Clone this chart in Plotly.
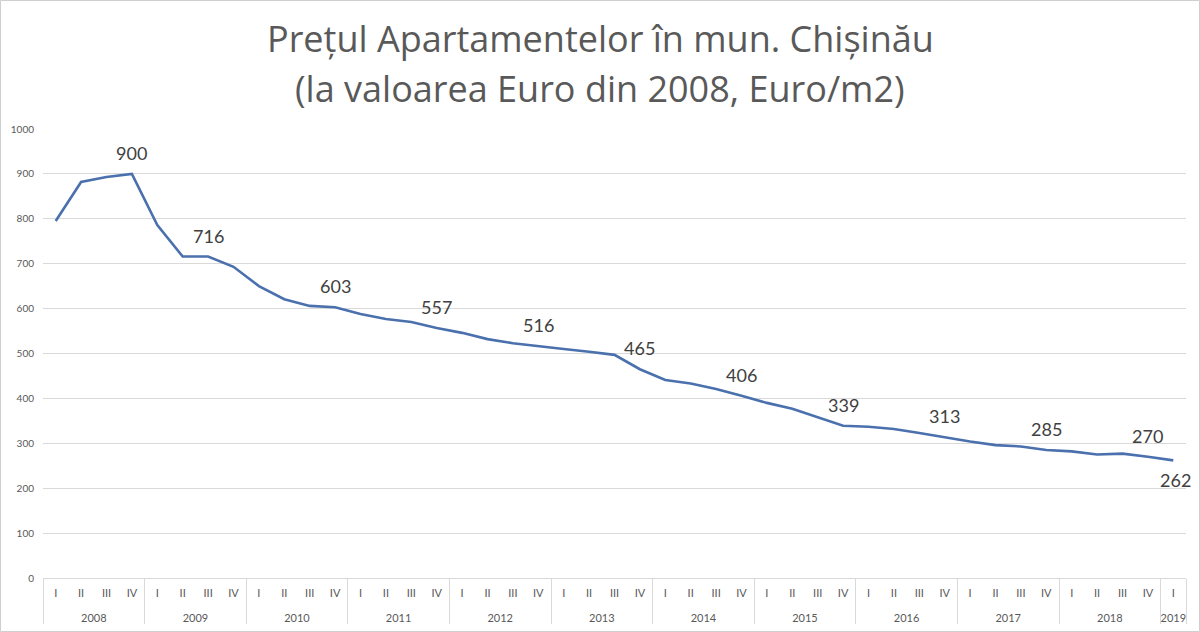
import plotly.graph_objects as go

years = ["2008", "2009", "2010", "2011", "2012", "2013", "2014", "2015",
         "2016", "2017", "2018", "2019"]
quarter_names = ["I", "II", "III", "IV"]
quarters_per_year = [4, 4, 4, 4, 4, 4, 4, 4, 4, 4, 4, 1]

prices = [795, 882, 893, 900,
          786, 716, 716, 693,
          650, 621, 606, 603,
          588, 577, 570, 557,
          546, 532, 523, 516,
          510, 504, 497, 465,
          441, 433, 421, 406,
          390, 377, 358, 339,
          337, 332, 323, 313,
          304, 296, 293, 285,
          282, 275, 277, 270,
          262]

# indices of the points that carry a value label
label_idx = [3, 6, 11, 15, 19, 23, 27, 31, 35, 39, 43, 44]
label_below = [44]

title_line1 = "Prețul Apartamentelor în mun. Chișinău"
title_line2 = "(la valoarea Euro din 2008, Euro/m2)"

x_year = []
x_q = []
for y, n in zip(years, quarters_per_year):
    for k in range(n):
        # leading line break pushes the year row lower, as in the reference
        x_year.append("<br>" + y)
        x_q.append(quarter_names[k])

W, H = 1200, 632
ml, mr, mt, mb = 43, 14, 129, 54
pw, ph = W - ml - mr, H - mt - mb

fig = go.Figure()
fig.add_trace(go.Scatter(
    x=[x_year, x_q], y=prices, mode="lines",
    line=dict(color="#4a70ad", width=2.6),
    hoverinfo="y", showlegend=False,
))

annotations = []
for i in label_idx:
    below = i in label_below
    annotations.append(dict(
        x=i, y=prices[i], xref="x", yref="y", text=str(prices[i]),
        showarrow=False, yshift=-20 if below else 21,
        xshift=2 if below else 0,
        font=dict(family="Lato", size=18, color="#404040"),
    ))

annotations.append(dict(
    x=(600 - ml) / pw, y=(H - mb - 38) / ph, xref="paper", yref="paper",
    text=title_line1, showarrow=False, yanchor="middle",
    font=dict(family="Open Sans", size=36, color="#595959"),
))
annotations.append(dict(
    x=(600 - ml) / pw, y=(H - mb - 88) / ph, xref="paper", yref="paper",
    text=title_line2, showarrow=False, yanchor="middle",
    font=dict(family="Open Sans", size=36, color="#595959"),
))

fig.update_layout(
    width=W, height=H,
    margin=dict(l=ml, r=mr, t=mt, b=mb),
    paper_bgcolor="white", plot_bgcolor="white",
    annotations=annotations,
    shapes=[dict(type="rect", xref="paper", yref="paper",
                 x0=-(ml - 0.5) / pw, x1=(W - 0.5 - ml) / pw,
                 y0=-(mb - 0.5) / ph, y1=(H - 0.5 - mb) / ph,
                 line=dict(color="#cfcfcf", width=1))],
    xaxis=dict(
        type="multicategory", range=[-0.5, 44.5], automargin=False,
        showgrid=False, showline=True, linecolor="#d9d9d9", linewidth=1,
        showdividers=True, dividercolor="#d9d9d9", dividerwidth=1,
        tickfont=dict(family="Lato", size=11, color="#595959"),
        ticks="", zeroline=False, ticklabelstandoff=5,
    ),
    yaxis=dict(
        range=[0, 1000], dtick=100, tick0=0, automargin=False,
        showgrid=True, gridcolor="#d9d9d9", gridwidth=1,
        zeroline=False, showline=False, ticks="",
        tickfont=dict(family="Lato", size=10, color="#595959"),
        ticklabelstandoff=8,
    ),
)

fig.write_html("out.html")
